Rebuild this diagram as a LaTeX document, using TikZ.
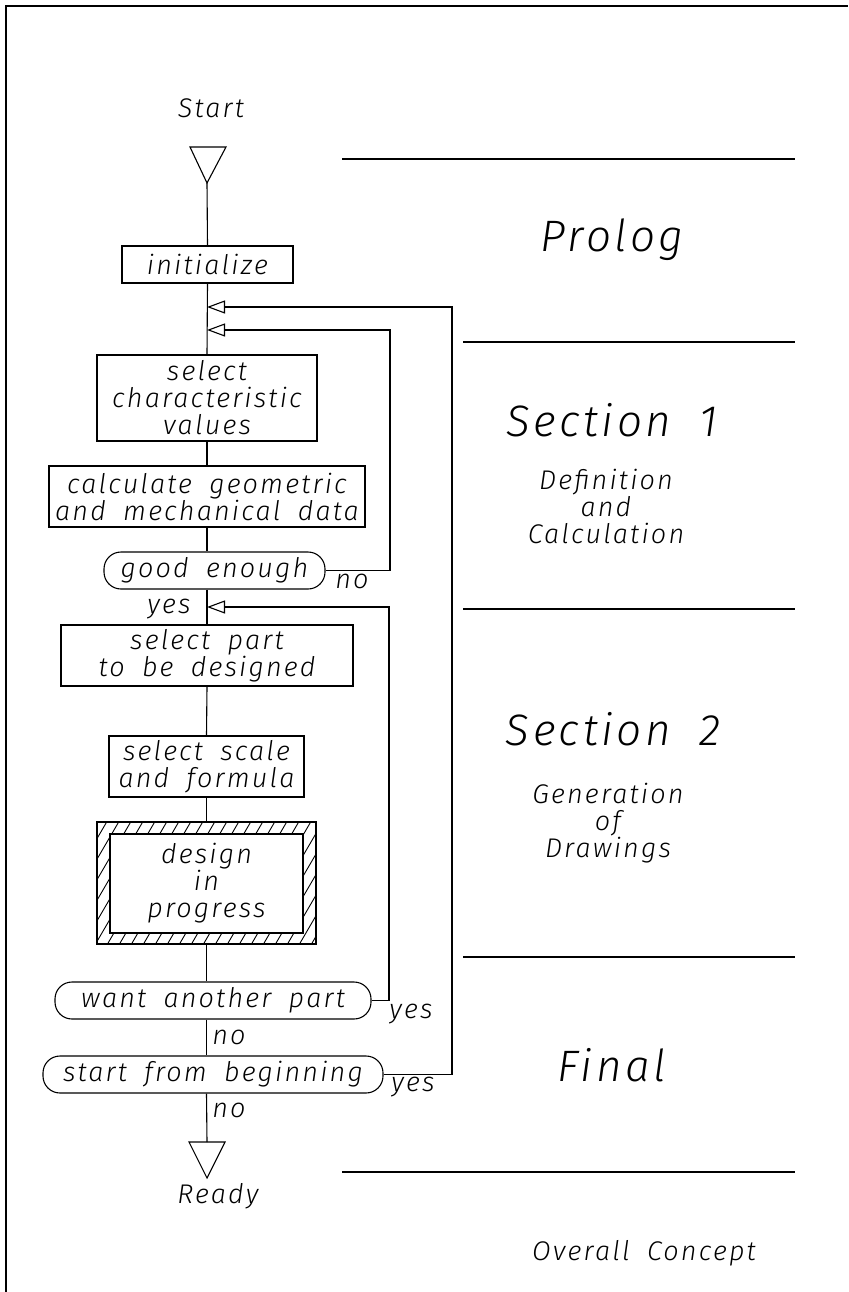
\documentclass[tikz,border=0pt]{standalone}
\usepackage{fontspec}
\usetikzlibrary{arrows.meta,calc}
\newfontfamily\plotfont[LetterSpace=8,WordSpace=1.8]{Fira Sans Light Italic}
\begin{document}
\begin{tikzpicture}[x=1pt,y=-1pt,line width=1.1pt,
  flow/.style={font=\plotfont\fontsize{27}{27}\selectfont},
  box/.style={draw,rectangle,inner sep=0pt,align=center,flow},
  dec/.style={draw,rectangle,rounded corners=17pt,inner sep=0pt,align=center,flow},
  lbl/.style={flow,inner sep=0pt},
  big/.style={font=\plotfont\fontsize{44}{50}\selectfont,inner sep=0pt},
  sub/.style={font=\plotfont\fontsize{27}{27}\selectfont,inner sep=0pt,align=center},
  back/.style={-{Triangle[open,length=18pt,width=13pt]}},
  sepline/.style={line width=1.1pt}]
\useasboundingbox (0,0) rectangle (848,1292);
% frame
\draw (6,1292) -- (6,6) -- (848,6);

% hatching of the design frame (drawn first, inner area covered)
\begin{scope}
  \clip (97,822) rectangle (316,944);
  \foreach \x in {20,32,...,332} \draw[line width=0.9pt] (\x,950) -- ++(77,-132);
\end{scope}
\fill[white] (110,834) rectangle (303,933);
\draw (110,834) rectangle (303,933);

% flow chart
\node[lbl] (start) at (211,108) {Start};
\draw (190,147) -- (226,147) -- (207,183) -- cycle;
\coordinate (sapex) at (207,183);
\node[box,minimum width=171pt,minimum height=37pt] (init) at (207.5,264.5) {initialize};
\coordinate (m1) at (207,307);
\coordinate (m2) at (207,330);
\node[box,minimum width=220pt,minimum height=86pt] (selchar) at (207,398) {select\\characteristic\\values};
\node[box,minimum width=316pt,minimum height=61pt] (calc) at (207,496.5) {calculate geometric\\and mechanical data};
\node[dec,minimum width=221pt,minimum height=37pt] (good) at (214.5,570.5) {good enough};
\coordinate (m3) at (207,607);
\node[box,minimum width=292pt,minimum height=61pt] (selpart) at (207,655.5) {select part\\to be designed};
\node[box,minimum width=195pt,minimum height=61pt] (selscale) at (206.5,766.5) {select scale\\and formula};
\node[box,minimum width=219pt,minimum height=122pt] (design) at (206.5,883) {design\\in\\progress};
\node[dec,minimum width=316pt,minimum height=37pt] (another) at (213,1000.5) {want another part};
\node[dec,minimum width=340pt,minimum height=37pt] (again) at (213,1074.5) {start from beginning};
\draw (189,1142) -- (225,1142) -- (207,1178) -- cycle;
\coordinate (etop) at (207,1142);
\node[lbl] (ready) at (218,1196) {Ready};

% main connectors
\draw (sapex) -- (init.north);
\draw (init.south) -- (selchar.north);
\draw (selchar.south) -- (calc.north);
\draw (calc.south) -- (calc.south |- good.north);
\draw (calc.south |- good.south) -- (selpart.north);
\draw (selpart.south) -- (selscale.north);
\draw (selscale.south) -- (design.north);
\draw (design.south) -- (design.south |- another.north);
\draw (design.south |- another.south) -- (design.south |- again.north);
\draw (design.south |- again.south) -- (etop);

% loop-back connectors
\draw[back] (good.east) -| ([xshift=183pt]m2) -- (m2);
\draw[back] (another.east) -| ([xshift=182pt]m3) -- (m3);
\draw[back] (again.east) -| ([xshift=245pt]m1) -- (m1);

% branch labels
\node[lbl] (no1) at (352,581) {no};
\node[lbl] (yes1) at (169,609) {yes};
\node[lbl] (yes2) at (411,1014) {yes};
\node[lbl] (no2) at (229,1037) {no};
\node[lbl] (yes3) at (413,1087) {yes};
\node[lbl] (no3) at (229,1110) {no};

% right column
\draw[sepline] (342,159) -- (795,159);
\draw[sepline] (463,342) -- (795,342);
\draw[sepline] (463,609) -- (795,609);
\draw[sepline] (463,957) -- (795,957);
\draw[sepline] (342,1172) -- (795,1172);
\node[big] (prolog) at (612,240) {Prolog};
\node[big] (sec1) at (612,420) {Section 1};
\node[sub] (def) at (606,506) {Definition\\and\\Calculation};
\node[big] (sec2) at (613,729) {Section 2};
\node[sub] (gen) at (608,823) {Generation\\of\\Drawings};
\node[big] (final) at (612,1065) {Final};
\node[sub] (overall) at (644,1253) {Overall Concept};
\end{tikzpicture}
\end{document}
